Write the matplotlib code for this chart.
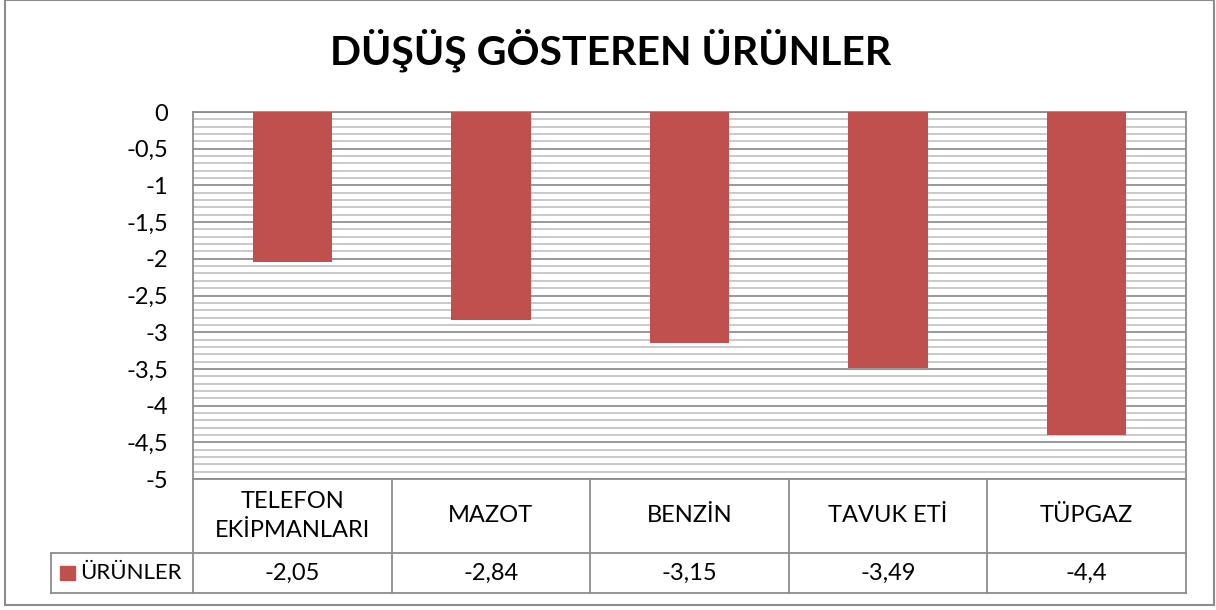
import numpy as np
import matplotlib.pyplot as plt
import matplotlib.transforms as mtransforms
from matplotlib.patches import Rectangle

categories = ["TELEFON\nEKİPMANLARI", "MAZOT", "BENZİN", "TAVUK ETİ", "TÜPGAZ"]
values = [-2.05, -2.84, -3.15, -3.49, -4.4]
series_name = "ÜRÜNLER"
title = "DÜŞÜŞ GÖSTEREN ÜRÜNLER"
yticks = [0, -0.5, -1, -1.5, -2, -2.5, -3, -3.5, -4, -4.5, -5]

plt.rcParams['font.family'] = ['Lato', 'DejaVu Sans']

bar_color = '#C0504D'
line_color = '#8C8C8C'
fs = 17

fig = plt.figure(figsize=(12.16, 6.10), dpi=100)
ax = fig.add_axes([193/1216, 131/610, 993/1216, 367/610])

x = np.arange(len(categories))
ax.bar(x, values, width=0.4, color=bar_color, zorder=3)

ax.set_xlim(-0.5, len(categories) - 0.5)
ax.set_ylim(-5, 0)
ax.set_yticks(yticks)
ax.set_yticklabels([("%g" % v).replace(".", ",") for v in yticks], fontsize=fs)
ax.set_yticks(np.arange(-5, 0.001, 0.1), minor=True)
ax.tick_params(axis='y', which='both', length=0, pad=18)
ax.set_xticks([])
ax.grid(axis='y', which='major', color='#868686', lw=1.2, zorder=1)
ax.grid(axis='y', which='minor', color='#C0C0C0', lw=1.2, zorder=1)
for s in ax.spines.values():
    s.set_color(line_color)
    s.set_linewidth(1.3)

# data table under the plot
trans = mtransforms.blended_transform_factory(ax.transData, ax.transAxes)
row1 = -(553 - 479) / 367
row2 = -(593 - 479) / 367
leg_left = (51 - 193) / 993
kw = dict(color=line_color, lw=1.3, clip_on=False)
for b in np.arange(-0.5, len(categories), 1.0):
    ax.plot([b, b], [0, row2], transform=trans, **kw)
ax.plot([leg_left, 1], [row1, row1], transform=ax.transAxes, **kw)
ax.plot([leg_left, 1], [row2, row2], transform=ax.transAxes, **kw)
ax.plot([leg_left, leg_left], [row1, row2], transform=ax.transAxes, **kw)

for xi, cat, v in zip(x, categories, values):
    ax.text(xi, row1 / 2, cat, transform=trans, ha='center', va='center',
            fontsize=fs, linespacing=1.45)
    ax.text(xi, (row1 + row2) / 2, ("%g" % v).replace(".", ","), transform=trans,
            ha='center', va='center', fontsize=fs)

ax.add_patch(Rectangle(((60 - 193) / 993, (row1 + row2) / 2 - 7 / 367), 15 / 993, 14 / 367,
                       transform=ax.transAxes, color=bar_color, clip_on=False))
ax.text((80 - 193) / 993, (row1 + row2) / 2, series_name, transform=ax.transAxes,
        ha='left', va='center', fontsize=16)

fig.text(611 / 1216, 1 - 50 / 610, title, ha='center', va='center',
         fontsize=29.5, fontweight='bold')

fig.add_artist(Rectangle((5 / 1216, 5 / 610), 1209 / 1216, 605 / 610,
                         transform=fig.transFigure, fill=False,
                         edgecolor=line_color, lw=1.5))

fig.savefig("out.png", dpi=100)
